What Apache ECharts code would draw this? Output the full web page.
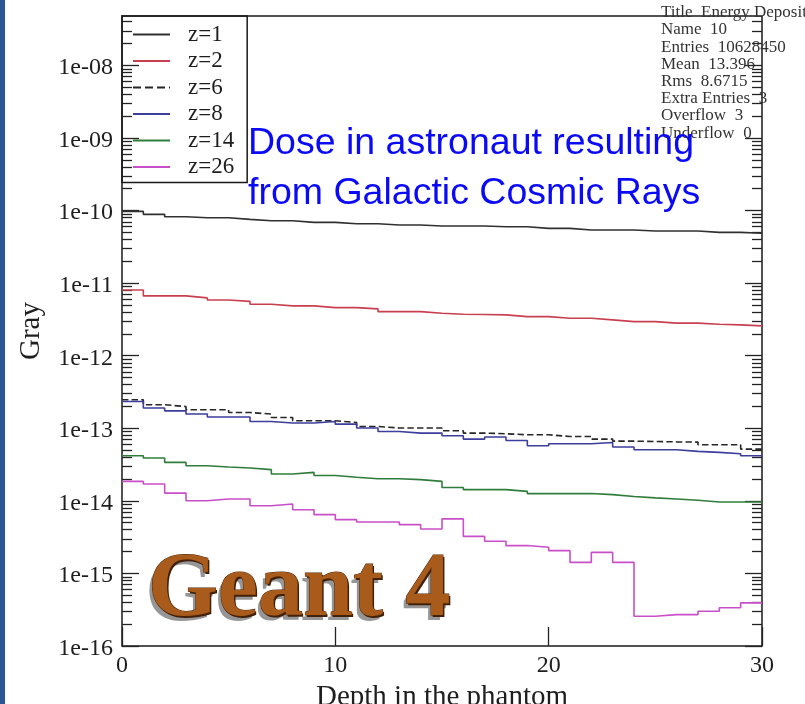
<!DOCTYPE html>
<html>
<head>
<meta charset="utf-8">
<script src="https://cdn.jsdelivr.net/npm/echarts@6/dist/echarts.min.js"></script>
<style>
  html, body { margin: 0; padding: 0; background: #ffffff; }
  #chart { width: 805px; height: 704px; }
</style>
</head>
<body>
<div id="chart"></div>
<script>
// Energy deposit per depth bin (Gray), one array per ion charge z
const binWidth = 1;
const seriesNames = ['z=1', 'z=2', 'z=6', 'z=8', 'z=14', 'z=26'];

const doseZ1 = [9.75e-11, 8.87e-11, 8.22e-11, 7.96e-11, 7.96e-11, 7.57e-11, 7.24e-11, 7.24e-11, 6.88e-11, 6.88e-11,
                6.58e-11, 6.58e-11, 6.32e-11, 6.32e-11, 6.12e-11, 6.12e-11, 6.12e-11, 5.98e-11, 5.98e-11, 5.69e-11,
                5.69e-11, 5.39e-11, 5.39e-11, 5.39e-11, 5.22e-11, 5.22e-11, 5.22e-11, 5.01e-11, 5.01e-11, 4.86e-11];
const doseZ2 = [8.06e-12, 6.67e-12, 6.67e-12, 6.26e-12, 5.87e-12, 5.60e-12, 5.13e-12, 4.86e-12, 4.86e-12, 4.60e-12,
                4.60e-12, 4.42e-12, 4.05e-12, 4.05e-12, 3.85e-12, 3.73e-12, 3.70e-12, 3.65e-12, 3.46e-12, 3.46e-12,
                3.29e-12, 3.29e-12, 3.12e-12, 2.95e-12, 2.95e-12, 2.81e-12, 2.81e-12, 2.72e-12, 2.66e-12, 2.58e-12];
const doseZ6 = [2.47e-13, 2.11e-13, 1.995e-13, 1.80e-13, 1.80e-13, 1.65e-13, 1.57e-13, 1.41e-13, 1.27e-13, 1.27e-13,
                1.20e-13, 1.06e-13, 1.01e-13, 1.01e-13, 1.01e-13, 9.25e-14, 8.59e-14, 8.40e-14, 8.14e-14, 8.14e-14,
                7.71e-14, 7.71e-14, 7.10e-14, 6.65e-14, 6.58e-14, 6.50e-14, 6.45e-14, 5.93e-14, 5.93e-14, 5.17e-14];
const doseZ8 = [2.34e-13, 1.90e-13, 1.74e-13, 1.57e-13, 1.43e-13, 1.43e-13, 1.24e-13, 1.18e-13, 1.18e-13, 1.24e-13,
                1.14e-13, 1.01e-13, 9.04e-14, 8.59e-14, 8.59e-14, 7.89e-14, 7.10e-14, 7.57e-14, 6.79e-14, 5.74e-14,
                6.12e-14, 6.12e-14, 6.38e-14, 5.51e-14, 5.06e-14, 5.06e-14, 4.80e-14, 4.65e-14, 4.46e-14, 4.18e-14];
const doseZ14 = [4.19e-14, 3.89e-14, 3.39e-14, 3.05e-14, 2.93e-14, 2.84e-14, 2.69e-14, 2.34e-14, 2.47e-14, 2.24e-14,
                 2.11e-14, 2.02e-14, 2.02e-14, 1.96e-14, 1.855e-14, 1.53e-14, 1.43e-14, 1.43e-14, 1.35e-14, 1.26e-14,
                 1.26e-14, 1.26e-14, 1.22e-14, 1.15e-14, 1.10e-14, 1.06e-14, 1.02e-14, 9.66e-15, 9.66e-15, 9.66e-15];
const doseZ26 = [1.855e-14, 1.71e-14, 1.28e-14, 1.005e-14, 1.06e-14, 1.06e-14, 8.58e-15, 9.06e-15, 7.56e-15, 6.46e-15,
                 5.51e-15, 5.12e-15, 5.12e-15, 4.70e-15, 4.10e-15, 5.64e-15, 3.24e-15, 2.77e-15, 2.42e-15, 2.29e-15,
                 2.06e-15, 1.42e-15, 1.95e-15, 1.42e-15, 2.57e-16, 2.71e-16, 2.71e-16, 3.01e-16, 3.36e-16, 3.93e-16];

// Axis ticks
const xTickLabels = [0, 10, 20, 30];
const yMajorTicks = [1e-16, 1e-15, 1e-14, 1e-13, 1e-12, 1e-11, 1e-10, 1e-9, 1e-8];
const yMinorMultipliers = [2, 3, 4, 5, 6, 7, 8, 9];

// Histogram summary box
const statsLines = ['Title  Energy Deposit', 'Name  10', 'Entries  10628450', 'Mean  13.396',
                    'Rms  8.6715', 'Extra Entries  3', 'Overflow  3', 'Underflow  0'];

const titleLines = ['Dose in astronaut resulting', 'from Galactic Cosmic Rays'];
const logoText = 'Geant 4';

// ---------------------------------------------------------------
const serif = '"Liberation Serif", "Times New Roman", serif';
const inkColor = '#1e1e1e';
const yMin = 1e-16, yMax = 4.8e-8;
const xMin = 0, xMax = 30;

const yMinorTicks = [];
yMajorTicks.forEach(p => yMinorMultipliers.forEach(m => {
  const v = m * p;
  if (v <= yMax) yMinorTicks.push(v);
}));

// step histogram: left edge of every bin, then the closing right edge
function histogram(values) {
  const pts = values.map((v, i) => [xMin + i * binWidth, v]);
  pts.push([xMin + values.length * binWidth, values[values.length - 1]]);
  return pts;
}

function sciLabel(v) {
  const e = Math.round(Math.log10(v));
  const s = e < 0 ? '-' : '+';
  return '{e|1e' + s + String(Math.abs(e)).padStart(2, '0') + '}';
}

const seriesStyles = [
  { color: '#303030', type: 'solid' },
  { color: '#c8404f', type: 'solid' },
  { color: '#262626', type: 'dashed' },
  { color: '#3d3d9c', type: 'solid' },
  { color: '#2f7d3a', type: 'solid' },
  { color: '#c94fc9', type: 'solid' }
];
const seriesValues = [doseZ1, doseZ2, doseZ6, doseZ8, doseZ14, doseZ26];

const yBase = {
  type: 'log', logBase: 10, min: yMin, max: yMax,
  splitLine: { show: false }, axisLine: { show: false }, minorTick: { show: false }
};
const tickLine = { color: '#222', width: 1.3 };

// logo lettering: drop shadow, dark bevel, wood-brown face
const logoFont = 'bold 90px "Liberation Serif", serif';
const logoLayers = [
  { dx: -3, dy: 5, fill: 'rgba(115,115,115,0.75)', blur: 4, stroke: null },
  { dx: 1.5, dy: 1.5, fill: '#40200a', blur: 0, stroke: null },
  { dx: 0, dy: 0, fill: '#a95b1b', blur: 0, stroke: '#4e2607' }
];

const chart = echarts.init(document.getElementById('chart'), null, { renderer: 'canvas' });
chart.setOption({
  backgroundColor: '#ffffff',
  animation: false,
  grid: {
    left: 122, top: 16, right: 43, bottom: 58,
    outerBoundsMode: 'none', containLabel: false,
    show: true, borderColor: '#1a1a1a', borderWidth: 1.5, backgroundColor: 'transparent'
  },
  legend: {
    orient: 'vertical', left: 122, top: 16,
    padding: [7, 13, 4, 10],
    itemWidth: 37, itemHeight: 14, itemGap: 3.5,
    borderColor: '#1a1a1a', borderWidth: 1.5,
    itemStyle: { opacity: 0 },
    textStyle: { fontFamily: serif, fontSize: 23, color: inkColor, padding: [0, 0, 0, 13] },
    data: seriesNames
  },
  xAxis: {
    type: 'value', min: xMin, max: xMax, interval: 10, z: 5,
    splitLine: { show: false }, axisLine: { show: false },
    axisTick: { inside: true, length: 19, lineStyle: tickLine },
    axisLabel: { fontFamily: serif, fontSize: 24, color: inkColor, margin: 8,
                 customValues: xTickLabels },
    name: 'Depth in the phantom', nameLocation: 'middle', nameGap: 32,
    nameTextStyle: { fontFamily: serif, fontSize: 29, color: inkColor }
  },
  yAxis: [
    Object.assign({}, yBase, {
      position: 'left',
      name: 'Gray', nameLocation: 'middle', nameGap: 76,
      nameTextStyle: { fontFamily: serif, fontSize: 29, color: inkColor },
      axisTick: { inside: true, length: 17, customValues: yMajorTicks, lineStyle: tickLine },
      axisLabel: { customValues: yMajorTicks, formatter: sciLabel, margin: 9,
                   rich: { e: { fontFamily: serif, fontSize: 24, color: inkColor, padding: [5, 0, 0, 0] } } }
    }),
    Object.assign({}, yBase, {
      position: 'left',
      axisTick: { inside: true, length: 10, customValues: yMinorTicks, lineStyle: tickLine },
      axisLabel: { show: false }
    }),
    Object.assign({}, yBase, {
      position: 'right',
      axisTick: { inside: true, length: 17, customValues: yMajorTicks, lineStyle: tickLine },
      axisLabel: { show: false }
    }),
    Object.assign({}, yBase, {
      position: 'right',
      axisTick: { inside: true, length: 10, customValues: yMinorTicks, lineStyle: tickLine },
      axisLabel: { show: false }
    })
  ],
  series: seriesValues.map((vals, i) => ({
    name: seriesNames[i],
    type: 'line',
    step: 'end',
    yAxisIndex: 0,
    symbol: 'none',
    showSymbol: false,
    silent: true,
    color: seriesStyles[i].color,
    lineStyle: { color: seriesStyles[i].color, width: 1.6, type: seriesStyles[i].type },
    data: histogram(vals),
    z: 3
  })),
  graphic: [
    // left frame strip
    { type: 'rect', left: 0, top: 0, shape: { x: 0, y: 0, width: 5, height: 704 },
      style: { fill: '#2a5794' }, z: 10 },
    // logo
    ...logoLayers.map((L, i) => ({
      type: 'text', x: 148 + L.dx, y: 592 + L.dy, z: 1 + i * 0.1,
      style: Object.assign({
        text: logoText, font: logoFont, align: 'left', verticalAlign: 'middle', fill: L.fill
      }, L.blur ? { shadowColor: L.fill, shadowBlur: L.blur } : {},
         L.stroke ? { stroke: L.stroke, lineWidth: 1 } : {})
    })),
    // summary box
    ...statsLines.map((t, i) => ({
      type: 'text', x: 661, y: 12.7 + i * 17.2, z: 12,
      style: { text: t, font: '17px "Liberation Serif", serif', fill: '#333333',
               align: 'left', verticalAlign: 'middle' }
    })),
    // headline
    ...titleLines.map((t, i) => ({
      type: 'text', x: 248, y: 144 + i * 50, z: 20,
      style: { text: t, font: '37.5px "Liberation Sans", Arial, sans-serif', fill: '#0a0af5',
               align: 'left', verticalAlign: 'middle' }
    }))
  ]
});
</script>
</body>
</html>
